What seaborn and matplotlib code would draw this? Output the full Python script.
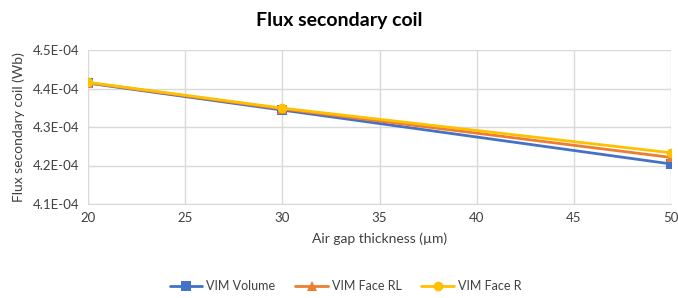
import matplotlib
matplotlib.use("Agg")
import matplotlib.pyplot as plt
import seaborn as sns
import pandas as pd
from matplotlib.ticker import FuncFormatter

# data
gap = [20, 30, 50]
vim_volume = [4.414e-4, 4.344e-4, 4.204e-4]
vim_face_rl = [4.415e-4, 4.347e-4, 4.221e-4]
vim_face_r = [4.416e-4, 4.349e-4, 4.233e-4]
series_names = ["VIM Volume", "VIM Face RL", "VIM Face R"]

df = pd.DataFrame({
    "gap": gap * 3,
    "flux": vim_volume + vim_face_rl + vim_face_r,
    "series": [s for s in series_names for _ in gap],
})

sns.set_style("white")
plt.rcParams["font.family"] = ["Lato", "DejaVu Sans"]

fig = plt.figure(figsize=(6.78, 2.98), dpi=100)
ax = fig.add_axes([88 / 678, 1 - 204 / 298, 583 / 678, 154 / 298])

sns.lineplot(data=df, x="gap", y="flux", hue="series", style="series",
             palette=["#4472C4", "#ED7D31", "#FFC000"],
             markers=["s", "^", "o"], dashes=False, markersize=7,
             linewidth=2, markeredgewidth=0, ax=ax)

ax.set_xlim(20, 50)
ax.set_ylim(4.1e-4, 4.5e-4)
ax.set_xticks([20, 25, 30, 35, 40, 45, 50])
ax.set_yticks([4.1e-4, 4.2e-4, 4.3e-4, 4.4e-4, 4.5e-4])
ax.yaxis.set_major_formatter(FuncFormatter(lambda v, p: f"{v:.1E}"))
ax.grid(True, color="#D9D9D9", linewidth=1)
ax.set_axisbelow(True)
for s in ax.spines.values():
    s.set_visible(False)
ax.spines["bottom"].set_visible(True)
ax.spines["bottom"].set_color("#D9D9D9")
ax.tick_params(axis="both", length=0, labelsize=9.5, colors="#404040", pad=6)

ax.set_xlabel("Air gap thickness (µm)", fontsize=10, color="#404040", labelpad=6)
ax.set_ylabel("Flux secondary coil (Wb)", fontsize=10, color="#404040", labelpad=6)
fig.suptitle("Flux secondary coil", fontsize=14, fontweight="bold", color="#000000", y=0.96)

ax.legend(loc="upper center", bbox_to_anchor=(0.5 - 34 / 583, -0.42), ncol=3,
          frameon=False, fontsize=9, handlelength=2.6, handletextpad=0.3,
          columnspacing=1.6, labelcolor="#404040")

fig.savefig("out.png", dpi=100)
